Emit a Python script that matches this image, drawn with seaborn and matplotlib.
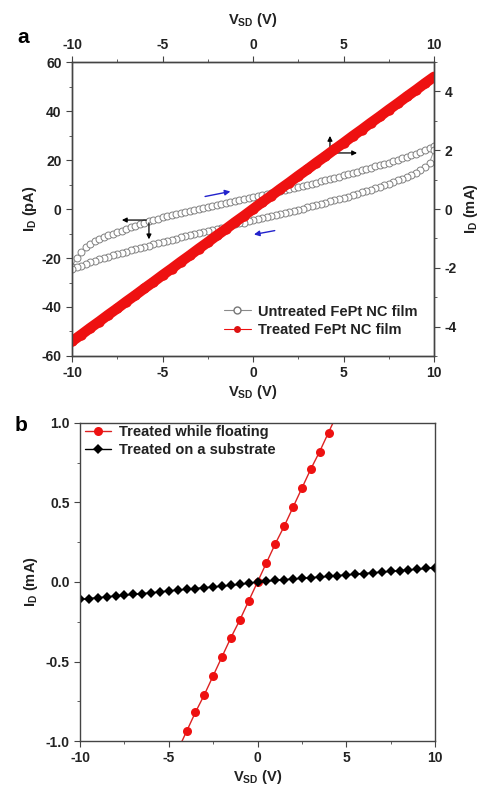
import matplotlib
matplotlib.use("Agg")
import matplotlib.pyplot as plt
import numpy as np
import pandas as pd
import seaborn as sns
from matplotlib.ticker import MultipleLocator
from matplotlib.lines import Line2D

# ---- panel a: untreated film (pA), hysteresis loop, sweep in 0.25 V steps
v_fine = [-10.0, -9.75, -9.5, -9.25, -9.0, -8.75, -8.5, -8.25, -8.0, -7.75,
          -7.5, -7.25, -7.0, -6.75, -6.5, -6.25, -6.0, -5.75, -5.5, -5.25,
          -5.0, -4.75, -4.5, -4.25, -4.0, -3.75, -3.5, -3.25, -3.0, -2.75,
          -2.5, -2.25, -2.0, -1.75, -1.5, -1.25, -1.0, -0.75, -0.5, -0.25,
          0.0, 0.25, 0.5, 0.75, 1.0, 1.25, 1.5, 1.75, 2.0, 2.25,
          2.5, 2.75, 3.0, 3.25, 3.5, 3.75, 4.0, 4.25, 4.5, 4.75,
          5.0, 5.25, 5.5, 5.75, 6.0, 6.25, 6.5, 6.75, 7.0, 7.25,
          7.5, 7.75, 8.0, 8.25, 8.5, 8.75, 9.0, 9.25, 9.5, 9.75, 10.0]
untreated_up = [-23.5, -20.0, -17.5, -15.6, -14.2, -13.1, -12.2, -11.4, -10.7, -10.0,
                -9.4, -8.8, -8.1, -7.4, -6.8, -6.2, -5.6, -5.0, -4.4, -3.9,
                -3.4, -2.9, -2.4, -2.0, -1.5, -1.1, -0.7, -0.3, 0.2, 0.6,
                1.0, 1.4, 1.8, 2.2, 2.6, 3.0, 3.4, 3.8, 4.2, 4.7,
                5.1, 5.5, 5.9, 6.3, 6.7, 7.1, 7.5, 7.9, 8.3, 8.7,
                9.1, 9.5, 9.9, 10.4, 10.8, 11.3, 11.7, 12.2, 12.7, 13.2,
                13.7, 14.2, 14.7, 15.2, 15.8, 16.3, 16.8, 17.4, 17.9, 18.5,
                19.0, 19.6, 20.2, 20.8, 21.4, 22.0, 22.6, 23.3, 24.0, 24.8, 25.8]
# return sweep, listed on the same voltages (read back from +10 to -10)
untreated_down = [-24.5, -23.8, -23.1, -22.4, -21.8, -21.2, -20.6, -20.0, -19.4, -18.9,
                  -18.4, -17.9, -17.4, -16.9, -16.4, -15.9, -15.4, -14.9, -14.4, -13.9,
                  -13.5, -13.0, -12.5, -12.1, -11.6, -11.2, -10.7, -10.3, -9.8, -9.4,
                  -8.9, -8.5, -8.1, -7.6, -7.2, -6.8, -6.3, -5.9, -5.5, -5.0,
                  -4.6, -4.2, -3.7, -3.3, -2.9, -2.4, -2.0, -1.6, -1.1, -0.7,
                  -0.2, 0.2, 0.7, 1.2, 1.6, 2.1, 2.6, 3.1, 3.6, 4.1,
                  4.6, 5.1, 5.7, 6.2, 6.8, 7.3, 7.9, 8.5, 9.1, 9.7,
                  10.3, 11.0, 11.7, 12.4, 13.1, 13.9, 14.8, 15.8, 17.0, 19.0, 24.0]

# ---- panel a: treated film (mA), 0.5 V steps
v_coarse = [-10.0, -9.5, -9.0, -8.5, -8.0, -7.5, -7.0, -6.5, -6.0, -5.5,
            -5.0, -4.5, -4.0, -3.5, -3.0, -2.5, -2.0, -1.5, -1.0, -0.5,
            0.0, 0.5, 1.0, 1.5, 2.0, 2.5, 3.0, 3.5, 4.0, 4.5,
            5.0, 5.5, 6.0, 6.5, 7.0, 7.5, 8.0, 8.5, 9.0, 9.5, 10.0]
treated_a = [-4.50, -4.28, -4.05, -3.83, -3.60, -3.38, -3.15, -2.93, -2.70, -2.48,
             -2.25, -2.03, -1.80, -1.58, -1.35, -1.13, -0.90, -0.68, -0.45, -0.23,
             0.00, 0.23, 0.45, 0.68, 0.90, 1.13, 1.35, 1.58, 1.80, 2.03,
             2.25, 2.48, 2.70, 2.93, 3.15, 3.38, 3.60, 3.83, 4.05, 4.28, 4.50]

# ---- panel b
v_float = [-4.5, -4.0, -3.5, -3.0, -2.5, -2.0, -1.5, -1.0, -0.5, 0.0,
           0.5, 1.0, 1.5, 2.0, 2.5, 3.0, 3.5, 4.0, 4.5]
floating = [-1.06, -0.94, -0.82, -0.71, -0.59, -0.47, -0.35, -0.24, -0.12, 0.00,
            0.12, 0.24, 0.35, 0.47, 0.59, 0.71, 0.82, 0.94, 1.06]
substrate = [-0.110, -0.104, -0.099, -0.094, -0.088, -0.083, -0.078, -0.073, -0.068, -0.063,
             -0.056, -0.051, -0.046, -0.041, -0.036, -0.031, -0.026, -0.021, -0.015, -0.008,
             0.000, 0.005, 0.010, 0.014, 0.019, 0.023, 0.027, 0.031, 0.035, 0.040,
             0.044, 0.049, 0.053, 0.058, 0.062, 0.067, 0.071, 0.076, 0.080, 0.085, 0.090]

sns.set_style("ticks")
plt.rcParams['font.family'] = ['Liberation Sans', 'DejaVu Sans']
plt.rcParams['font.weight'] = 'bold'
plt.rcParams['axes.labelweight'] = 'bold'
plt.rcParams['axes.unicode_minus'] = False
plt.rcParams['mathtext.fontset'] = 'custom'
plt.rcParams['mathtext.rm'] = 'Liberation Sans:bold'
plt.rcParams['mathtext.bf'] = 'Liberation Sans:bold'
plt.rcParams['axes.edgecolor'] = '#444444'
plt.rcParams['axes.linewidth'] = 1.0
TXT = '#222222'
VLAB = r'V$_{\mathregular{SD}}$ (V)'

loop = pd.DataFrame({
    'V': v_fine + v_fine[::-1],
    'I': untreated_up + untreated_down[::-1],
})

fig = plt.figure(figsize=(4.84, 7.90), dpi=100)
ax = fig.add_axes([0.1488, 0.5494, 0.748, 0.372])

sns.lineplot(data=loop, x='V', y='I', sort=False, estimator=None, ax=ax,
             color='#999999', lw=0.7, marker='o', markersize=5,
             markerfacecolor='white', markeredgecolor='#808080',
             markeredgewidth=0.7, legend=False)
ax.set_xlim(-10, 10)
ax.set_ylim(-60, 60)
ax.xaxis.set_major_locator(MultipleLocator(5))
ax.xaxis.set_minor_locator(MultipleLocator(2.5))
ax.yaxis.set_major_locator(MultipleLocator(20))
ax.yaxis.set_minor_locator(MultipleLocator(10))
ax.tick_params(which='both', direction='out', colors='#444444', labelcolor=TXT,
               labelsize=10, top=True, labeltop=True)
ax.tick_params(which='major', length=4)
ax.tick_params(which='minor', length=2)
ax.set_xlabel(VLAB, fontsize=10.5, color=TXT, labelpad=2)
ax.set_ylabel(r'I$_{\mathregular{D}}$ (pA)', fontsize=10.5, color=TXT, labelpad=2)
fig.text(0.523, 0.975, VLAB, fontsize=10.5, fontweight='bold', color=TXT,
         ha='center', va='center')

ax2 = ax.twinx()
sns.lineplot(x=v_coarse, y=treated_a, ax=ax2, color='#ee1111', lw=7.5,
             marker='o', markersize=7.5, markeredgewidth=0, legend=False)
ax2.set_ylim(-5, 5)
ax2.yaxis.set_major_locator(MultipleLocator(2))
ax2.yaxis.set_minor_locator(MultipleLocator(1))
ax2.tick_params(which='both', direction='out', colors='#444444', labelcolor=TXT, labelsize=10)
ax2.tick_params(which='major', length=4)
ax2.tick_params(which='minor', length=2)
ax2.set_ylabel(r'I$_{\mathregular{D}}$ (mA)', fontsize=10.5, color=TXT, labelpad=4)

# direction arrows
arr_k = dict(arrowstyle='-|>', color='black', lw=0.9, mutation_scale=7)
arr_b = dict(arrowstyle='-|>', color='#2222cc', lw=1.0, mutation_scale=8)
ax.annotate('', xy=(-7.4, -4.5), xytext=(-5.75, -4.5), arrowprops=arr_k)
ax.annotate('', xy=(-5.75, -13.5), xytext=(-5.75, -4.5), arrowprops=arr_k)
ax.annotate('', xy=(4.25, 31), xytext=(4.25, 22.9), arrowprops=arr_k)
ax.annotate('', xy=(5.9, 22.9), xytext=(4.25, 22.9), arrowprops=arr_k)
ax.annotate('', xy=(-1.1, 7.4), xytext=(-2.8, 4.9), arrowprops=arr_b)
ax.annotate('', xy=(-0.1, -10.6), xytext=(1.35, -8.6), arrowprops=arr_b)

h_a = [Line2D([], [], color='#8a8a8a', lw=0.8, marker='o', markersize=5,
              markerfacecolor='white', markeredgecolor='#777777'),
       Line2D([], [], color='#ee1111', lw=0.8, marker='o', markersize=5,
              markerfacecolor='#dd1111', markeredgewidth=0)]
leg = ax2.legend(h_a, ['Untreated FePt NC film', 'Treated FePt NC film'],
                 loc='lower right', bbox_to_anchor=(0.99, 0.02), frameon=False,
                 fontsize=10.5, handlelength=1.8, handletextpad=0.5,
                 labelspacing=0.3)
for t in leg.get_texts():
    t.set_color(TXT)

fig.text(0.035, 0.946, 'a', fontsize=15, fontweight='bold', color='black')

# ---- panel b
bx = fig.add_axes([0.1653, 0.062, 0.7335, 0.4026])
sns.lineplot(x=v_float, y=floating, ax=bx, color='#dd2222', lw=1.0,
             marker='o', markersize=6.5, markerfacecolor='#ee1111',
             markeredgewidth=0, label='Treated while floating')
sns.lineplot(x=v_coarse, y=substrate, ax=bx, color='black', lw=1.0,
             marker='D', markersize=5, markeredgewidth=0,
             label='Treated on a substrate')
bx.set_xlim(-10, 10)
bx.set_ylim(-1.0, 1.0)
bx.xaxis.set_major_locator(MultipleLocator(5))
bx.xaxis.set_minor_locator(MultipleLocator(2.5))
bx.yaxis.set_major_locator(MultipleLocator(0.5))
bx.yaxis.set_minor_locator(MultipleLocator(0.25))
bx.tick_params(which='both', direction='out', colors='#444444', labelcolor=TXT, labelsize=10)
bx.tick_params(which='major', length=4)
bx.tick_params(which='minor', length=2)
bx.set_xlabel(VLAB, fontsize=10.5, color=TXT, labelpad=2)
bx.set_ylabel(r'I$_{\mathregular{D}}$ (mA)', fontsize=10.5, color=TXT, labelpad=4)
legb = bx.legend(loc='upper left', bbox_to_anchor=(-0.01, 1.02), frameon=False,
                 fontsize=10.5, handlelength=1.8, handletextpad=0.5,
                 labelspacing=0.25, borderaxespad=0.2)
for t in legb.get_texts():
    t.set_color(TXT)

fig.text(0.03, 0.455, 'b', fontsize=15, fontweight='bold', color='black')

fig.savefig('out.png', dpi=100)
